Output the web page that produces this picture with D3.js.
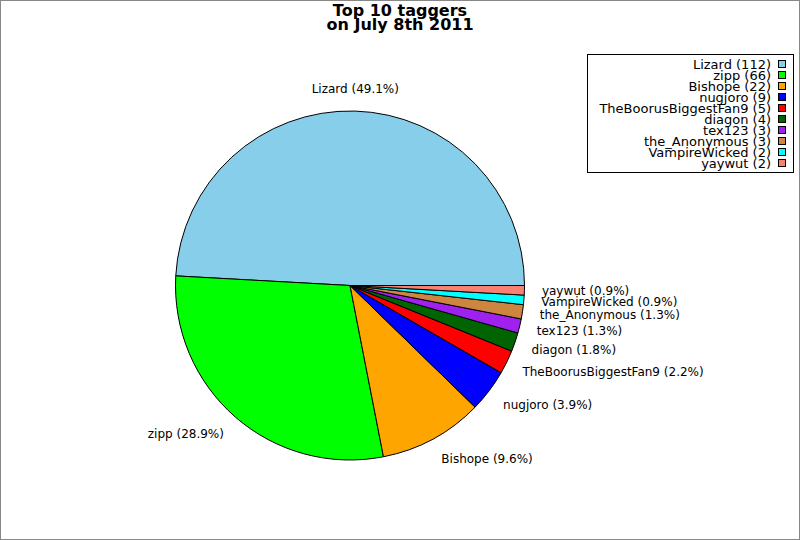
<!DOCTYPE html>
<html>
<head>
<meta charset="utf-8">
<script src="https://cdn.jsdelivr.net/npm/d3@7"></script>
<style>
  html, body { margin: 0; padding: 0; background: #fff; }
  svg { display: block; font-family: "DejaVu Sans", sans-serif; }
</style>
</head>
<body>
<svg id="chart" width="800" height="540"></svg>
<script>
const names = ["Lizard", "zipp", "Bishope", "nugjoro", "TheBoorusBiggestFan9", "diagon", "tex123", "the_Anonymous", "VampireWicked", "yaywut"];
const counts = [112, 66, 22, 9, 5, 4, 3, 3, 2, 2];
const colors = ["#87CEEB", "#00FF00", "#FFA500", "#0000FF", "#FF0000", "#006400", "#A020F0", "#CD853F", "#00FFFF", "#FA8072"];
const titleLines = ["Top 10 taggers", "on July 8th 2011"];

const W = 800, H = 540;
const cx = 350, cy = 285.5, r = 174.5;
const svg = d3.select("#chart");

svg.append("rect").attr("x", 0.5).attr("y", 0.5).attr("width", W - 1).attr("height", H - 1)
  .attr("fill", "#fff").attr("stroke", "#888").attr("stroke-width", 1);

const total = d3.sum(counts);
const data = names.map((n, i) => ({ name: n, value: counts[i], color: colors[i] }));

const pie = d3.pie().value(d => d.value).sort(null)
  .startAngle(Math.PI / 2).endAngle(Math.PI / 2 - 2 * Math.PI);
const arcs = pie(data);
const arc = d3.arc().innerRadius(0).outerRadius(r);

const g = svg.append("g").attr("transform", `translate(${cx},${cy})`);
g.selectAll("path").data(arcs).enter().append("path")
  .attr("d", arc)
  .attr("fill", d => d.data.color)
  .attr("stroke", "#000").attr("stroke-width", 1).attr("stroke-linejoin", "round");

// labels
g.selectAll("text.lbl").data(arcs).enter().append("text")
  .attr("class", "lbl")
  .each(function (d) {
    const a = (d.startAngle + d.endAngle) / 2;
    const sx = Math.sin(a), sy = -Math.cos(a);
    const x = 1.1 * r * sx, y = 1.13 * r * sy;
    const anchor = Math.abs(sx) < 0.1 ? "middle" : (sx > 0 ? "start" : "end");
    d3.select(this).attr("x", x).attr("y", y).attr("dy", "0.35em")
      .attr("text-anchor", anchor)
      .attr("font-size", 12).attr("fill", "#000")
      .text(`${d.data.name} (${(d.data.value / total * 100).toFixed(1)}%)`);
  });

// title
svg.append("g").selectAll("text").data(titleLines).enter().append("text")
  .attr("x", 400).attr("y", (d, i) => 16 + i * 13.5)
  .attr("text-anchor", "middle").attr("font-size", 16).attr("font-weight", "bold")
  .text(d => d);

// legend
const leg = svg.append("g");
leg.append("rect").attr("x", 587.5).attr("y", 54.5).attr("width", 206).attr("height", 118)
  .attr("fill", "#fff").attr("stroke", "#000").attr("stroke-width", 1);
const rows = leg.selectAll("g.row").data(data).enter().append("g")
  .attr("transform", (d, i) => `translate(0,${64 + i * 11})`);
rows.append("rect").attr("x", 778.5).attr("y", -3.5).attr("width", 7).attr("height", 7)
  .attr("fill", d => d.color).attr("stroke", "#000").attr("stroke-width", 1);
rows.append("text").attr("x", 771).attr("y", 0).attr("dy", "0.35em")
  .attr("text-anchor", "end").attr("font-size", 13)
  .text(d => `${d.name} (${d.value})`);
</script>
</body>
</html>
